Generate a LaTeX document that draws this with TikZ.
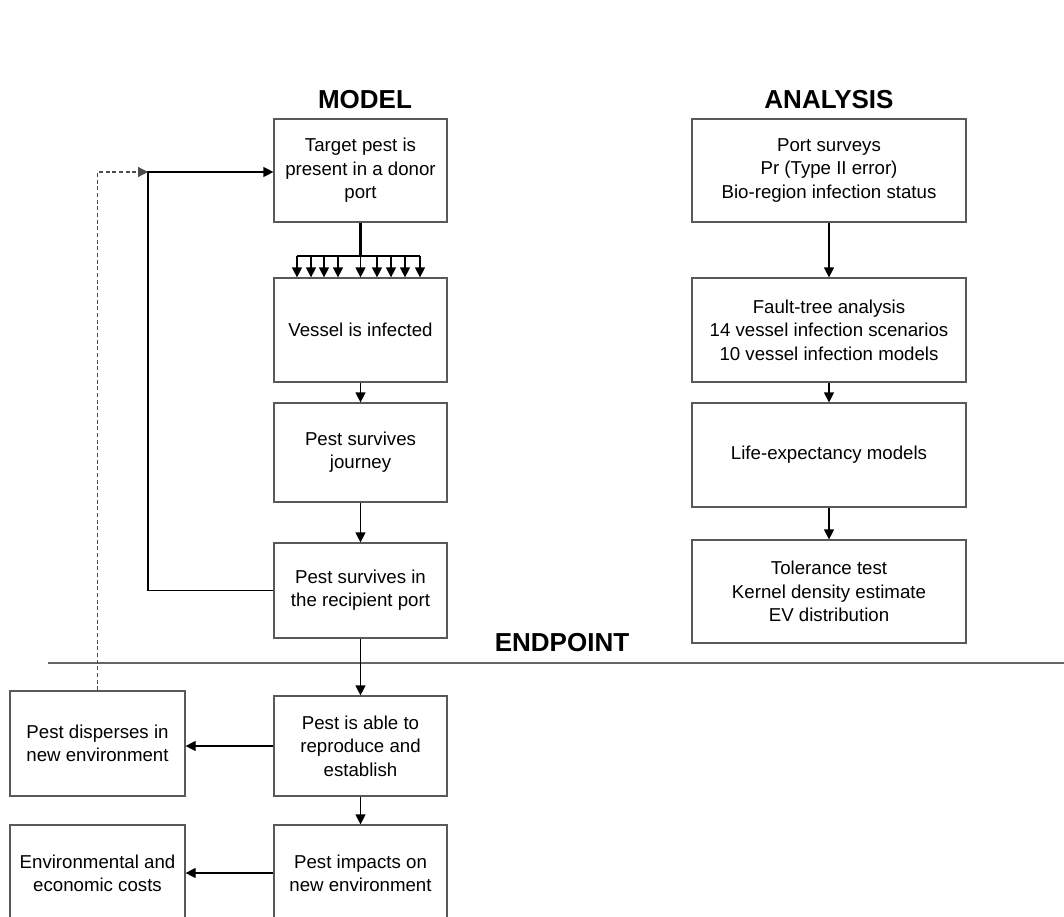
\documentclass[tikz,border=0pt]{standalone}
\usepackage{fontspec}
\setmainfont{Liberation Sans}
\usetikzlibrary{arrows.meta}

\tikzset{
    modelbox/.style={draw=black!65, line width=0.9pt, align=center, inner sep=2pt,
        font=\fontsize{14}{17.5}\selectfont},
    heading/.style={font=\fontsize{19.5}{22}\selectfont\bfseries},
    flow/.style={line width=0.9pt, -{Triangle[width=7.5pt,length=7.5pt]}}
}

\begin{document}
\begin{tikzpicture}[x=0.75pt, y=-0.75pt]
    \useasboundingbox (0,0) rectangle (1064,917);

    \node[heading] (model) at (365,100) {MODEL};
    \node[heading] (analysis) at (829,100) {ANALYSIS};
    \node[heading] (endpoint) at (562,643) {ENDPOINT};

    \draw[black!60, line width=0.9pt] (48,663) -- (1064,663);

    % model column
    \node[modelbox, minimum width=129.75pt, minimum height=77.25pt] (donor) at (360.5,170.5)
        {Target pest is\\present in a donor\\port};
    \node[modelbox, minimum width=129.75pt, minimum height=78pt] (infected) at (360.5,330)
        {Vessel is infected};
    \node[modelbox, minimum width=129.75pt, minimum height=74.25pt] (journey) at (360.5,452.5)
        {Pest survives\\journey};
    \node[modelbox, minimum width=129.75pt, minimum height=71.25pt] (recipient) at (360.5,590.5)
        {Pest survives in\\the recipient port};
    \node[modelbox, minimum width=129.75pt, minimum height=75pt] (establish) at (360.5,746)
        {Pest is able to\\reproduce and\\establish};
    \node[modelbox, minimum width=129.75pt, minimum height=72pt] (impacts) at (360.5,873)
        {Pest impacts on\\new environment};

    \node[modelbox, minimum width=131.25pt, minimum height=78.75pt] (disperses) at (97.5,743.5)
        {Pest disperses in\\new environment};
    \node[modelbox, minimum width=131.25pt, minimum height=72pt] (costs) at (97.5,873)
        {Environmental and\\economic costs};

    % analysis column
    \node[modelbox, minimum width=205.5pt, minimum height=77.25pt] (surveys) at (829,170.5)
        {Port surveys\\Pr (Type II error)\\Bio-region infection status};
    \node[modelbox, minimum width=205.5pt, minimum height=78pt] (faulttree) at (829,330)
        {Fault-tree analysis\\14 vessel infection scenarios\\10 vessel infection models};
    \node[modelbox, minimum width=205.5pt, minimum height=78pt] (lifeexp) at (829,455)
        {Life-expectancy models};
    \node[modelbox, minimum width=205.5pt, minimum height=77.25pt] (tolerance) at (829,591.5)
        {Tolerance test\\Kernel density estimate\\EV distribution};

    \coordinate (split) at (360.5,256);
    \coordinate (loop) at (148,172);

    \draw[line width=1.8pt] (donor.south) -- (split);
    \draw[line width=0.9pt] (297,256) -- (420,256);
    \foreach \x in {297,311,324,338,360.5,377,391,405,420}
        \draw[flow] (\x,256) -- (\x,256 |- infected.north);

    \draw[flow] (infected) -- (journey);
    \draw[flow] (journey) -- (recipient);
    \draw[flow] (recipient) -- (establish);
    \draw[flow] (establish) -- (impacts);
    \draw[flow] (establish.west) -- (establish.west -| disperses.east);
    \draw[flow] (impacts.west) -- (impacts.west -| costs.east);

    \draw[flow] (recipient.west) -| (loop) -- (loop -| donor.west);
    \draw[flow, densely dashed, black!70] (disperses.north) |- (loop);

    \draw[flow] (surveys) -- (faulttree);
    \draw[flow] (faulttree) -- (lifeexp);
    \draw[flow] (lifeexp) -- (tolerance);
\end{tikzpicture}
\end{document}
